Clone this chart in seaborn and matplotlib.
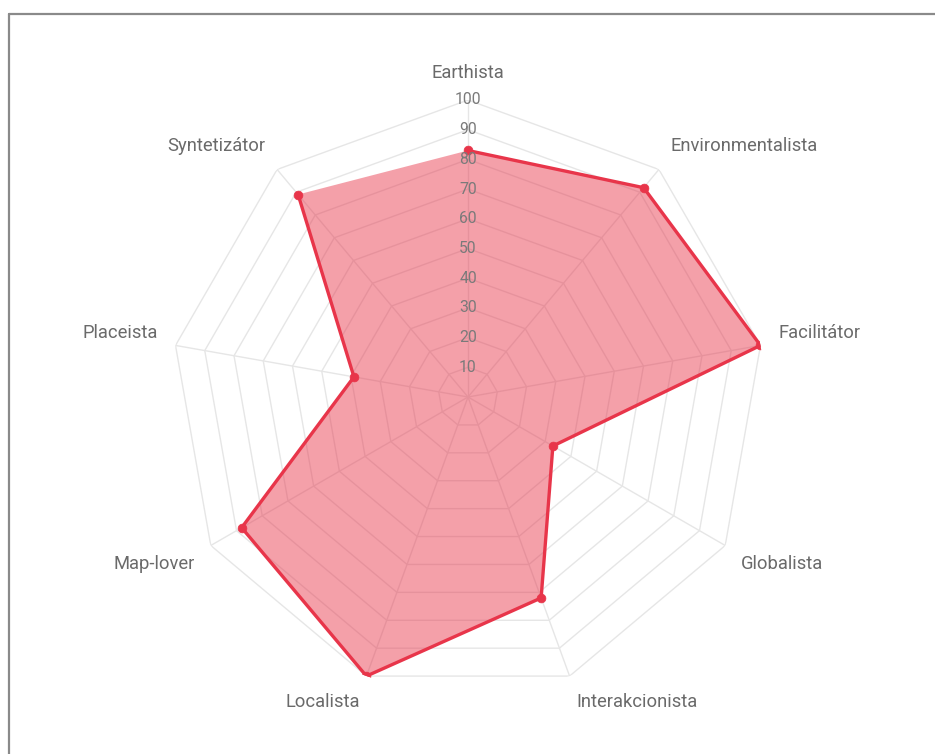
import numpy as np
import matplotlib
matplotlib.use("Agg")
import matplotlib.pyplot as plt
from matplotlib.lines import Line2D
import seaborn as sns

categories = ["Earthista", "Environmentalista", "Facilitátor", "Globalista",
              "Interakcionista", "Localista", "Map-lover", "Placeista", "Syntetizátor"]
values = [83, 92, 100, 33, 72, 100, 88, 39, 89]
tick_values = [10, 20, 30, 40, 50, 60, 70, 80, 90, 100]

sns.set_theme(style="white")
plt.rcParams["font.family"] = ["Roboto", "DejaVu Sans"]

W, H = 935, 754
fig = plt.figure(figsize=(W / 100, H / 100), dpi=100)
cx, cy, R = 468, 397, 297
ax = fig.add_axes([(cx - R) / W, (H - cy - R) / H, 2 * R / W, 2 * R / H], projection="polar")
ax.set_theta_offset(np.pi / 2)
ax.set_theta_direction(-1)
ax.set_ylim(0, 100)
ax.grid(False)
ax.set_xticks([])
ax.set_yticks([])
ax.spines["polar"].set_visible(False)
ax.set_facecolor("none")

n = len(categories)
angles = np.arange(n) * 2 * np.pi / n
closed = np.concatenate([angles, angles[:1]])

grid_color = "#e6e6e6"
for t in tick_values:
    ax.plot(closed, [t] * (n + 1), color=grid_color, lw=1.0, zorder=1)
for a in angles:
    ax.plot([a, a], [0, 100], color=grid_color, lw=1.0, zorder=1)

line_color = "#E8354A"
vals_closed = np.concatenate([values, values[:1]])
ax.fill(closed, vals_closed, color=line_color, alpha=0.47, lw=0, zorder=2)
sns.lineplot(x=closed, y=vals_closed, sort=False, ax=ax, color=line_color, lw=2.4, zorder=3)
sns.scatterplot(x=angles, y=values, ax=ax, color=line_color, s=40, edgecolor=line_color, zorder=4)
ax.set_xlabel("")
ax.set_ylabel("")

for t in tick_values:
    ax.text(0, t, str(t), ha="center", va="center", fontsize=11.3, color="#7a7a7a", zorder=5)

for a, lab in zip(angles, categories):
    deg = np.degrees(a) % 360
    if np.isclose(deg, 0) or np.isclose(deg, 180):
        ha = "center"
    elif deg < 180:
        ha = "left"
    else:
        ha = "right"
    if deg < 90 or deg > 270:
        va = "bottom"
    elif np.isclose(deg, 90) or np.isclose(deg, 270):
        va = "center"
    else:
        va = "top"
    ax.text(a, 106.2, lab, ha=ha, va=va, fontsize=13.2, color="#6a6a6a", clip_on=False)

# frame lines
fx, fy = 8.5 / W, 1 - 13.5 / H
fig.add_artist(Line2D([fx, 1], [fy, fy], transform=fig.transFigure, color="#8a8a8a", lw=1.6))
fig.add_artist(Line2D([fx, fx], [0, fy], transform=fig.transFigure, color="#8a8a8a", lw=1.6))

fig.savefig("out.png", dpi=100, facecolor="white")
